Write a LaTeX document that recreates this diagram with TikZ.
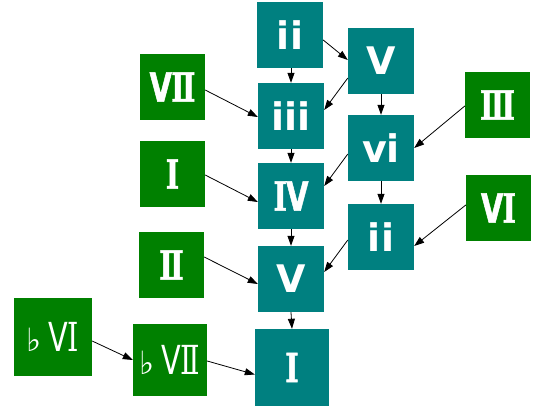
\documentclass[tikz,border=0pt]{standalone}
\usepackage{fontspec}
\usepackage{graphicx}
\setmainfont{DejaVu Sans}
\newfontfamily\serifnum{DejaVu Serif}[BoldFeatures={FakeBold=1.6}]
\newfontfamily\sansnum{DejaVu Sans}[BoldFeatures={FakeBold=1.6}]
\usetikzlibrary{arrows.meta}
\definecolor{tealbox}{HTML}{008080}
\definecolor{greenbox}{HTML}{008000}
\tikzset{
  chord/.style={fill=#1, text=white, inner sep=0pt, minimum width=66pt, minimum height=66pt,
    font=\fontsize{38}{40}\selectfont\bfseries},
  tealchord/.style={chord=tealbox},
  romanteal/.style={chord=tealbox, font=\fontsize{40}{42}\selectfont\bfseries},
  greenchord/.style={chord=greenbox, minimum width=65pt, font=\fontsize{40}{42}\selectfont\bfseries},
  flatchord/.style={chord=greenbox, font=\fontsize{40}{42}\selectfont},
  edge/.style={draw=black, line width=0.8pt, -{Triangle[length=10pt,width=7pt]}},
}
\newcommand{\RN}[1]{\scalebox{0.72}[1]{#1}}
\newcommand{\sV}{{\sansnum V}}
\newcommand{\sI}{{\serifnum Ⅰ}}
\newcommand{\sII}{{\serifnum Ⅱ}}
\newcommand{\sIII}{{\serifnum Ⅲ}}
\newcommand{\flatsym}{{\fontsize{32}{34}\selectfont\mdseries ♭}}
\begin{document}
\begin{tikzpicture}[x=1pt,y=-1pt]
\useasboundingbox (0,0) rectangle (535,411);
% teal column
\node[tealchord] (ii1) at (290,35) {ii};
\node[tealchord] (V1) at (381,61) {V};
\node[tealchord] (iii) at (291,116) {iii};
\node[tealchord] (vi) at (381,148) {vi};
\node[romanteal] (IV) at (291,196) {\RN{\sI\kern-1pt\sV}};
\node[tealchord] (ii2) at (381,237) {ii};
\node[tealchord] (V2) at (291,279) {V};
\node[romanteal, minimum width=74pt, minimum height=77pt] (I) at (292,367.5) {\RN{\sI}};
% green
\node[greenchord] (VII) at (172.5,87) {\RN{\sV\kern-1pt\sII}};
\node[greenchord] (Ig) at (172.5,174) {\RN{\sI}};
\node[greenchord] (II) at (171.5,265) {\RN{\sII}};
\node[greenchord] (III) at (497.5,105) {\RN{\sIII}};
\node[greenchord] (VI) at (498.5,208) {\RN{\sV\kern-1pt\sI}};
\node[flatchord, minimum width=78pt, minimum height=78pt] (bVI) at (53,337) {\flatsym\kern7pt\RN{\sV\kern-1pt\sI}};
\node[flatchord, minimum width=74pt, minimum height=72pt] (bVII) at (170,360) {\flatsym\kern7pt\RN{\sV\kern-1pt\sII}};
% edges
\draw[edge] ([yshift=-5pt]ii1.east) -- ([yshift=1pt]V1.west);
\draw[edge] (iii.north |- ii1.south) -- (iii.north);
\draw[edge] ([yshift=-17pt]V1.west) -- ([yshift=6pt]iii.east);
\draw[edge] (V1.south) -- (vi.north);
\draw[edge] ([yshift=-6pt]vi.west) -- ([yshift=10pt]IV.east);
\draw[edge] (vi.south) -- (ii2.north);
\draw[edge] ([yshift=-3pt]ii2.west) -- ([yshift=7pt]V2.east);
\draw[edge] ([yshift=-1pt]III.west) -- (vi.east);
\draw[edge] ([yshift=3pt]VI.west) -- ([yshift=-9pt]ii2.east);
\draw[edge] ([yshift=-3pt]VII.east) -- ([yshift=-1pt]iii.west);
\draw[edge] (iii.south) -- (IV.north);
\draw[edge] ([yshift=-1pt]Ig.east) -- ([yshift=-6pt]IV.west);
\draw[edge] (IV.south) -- (V2.north);
\draw[edge] ([yshift=8pt]II.east) -- ([yshift=-5pt]V2.west);
\draw[edge] (V2.south) -- (I.north);
\draw[edge] ([yshift=-4pt]bVI.east) -- (bVII.west);
\draw[edge] ([yshift=-1pt]bVII.east) -- ([yshift=-7pt]I.west);
\end{tikzpicture}
\end{document}
